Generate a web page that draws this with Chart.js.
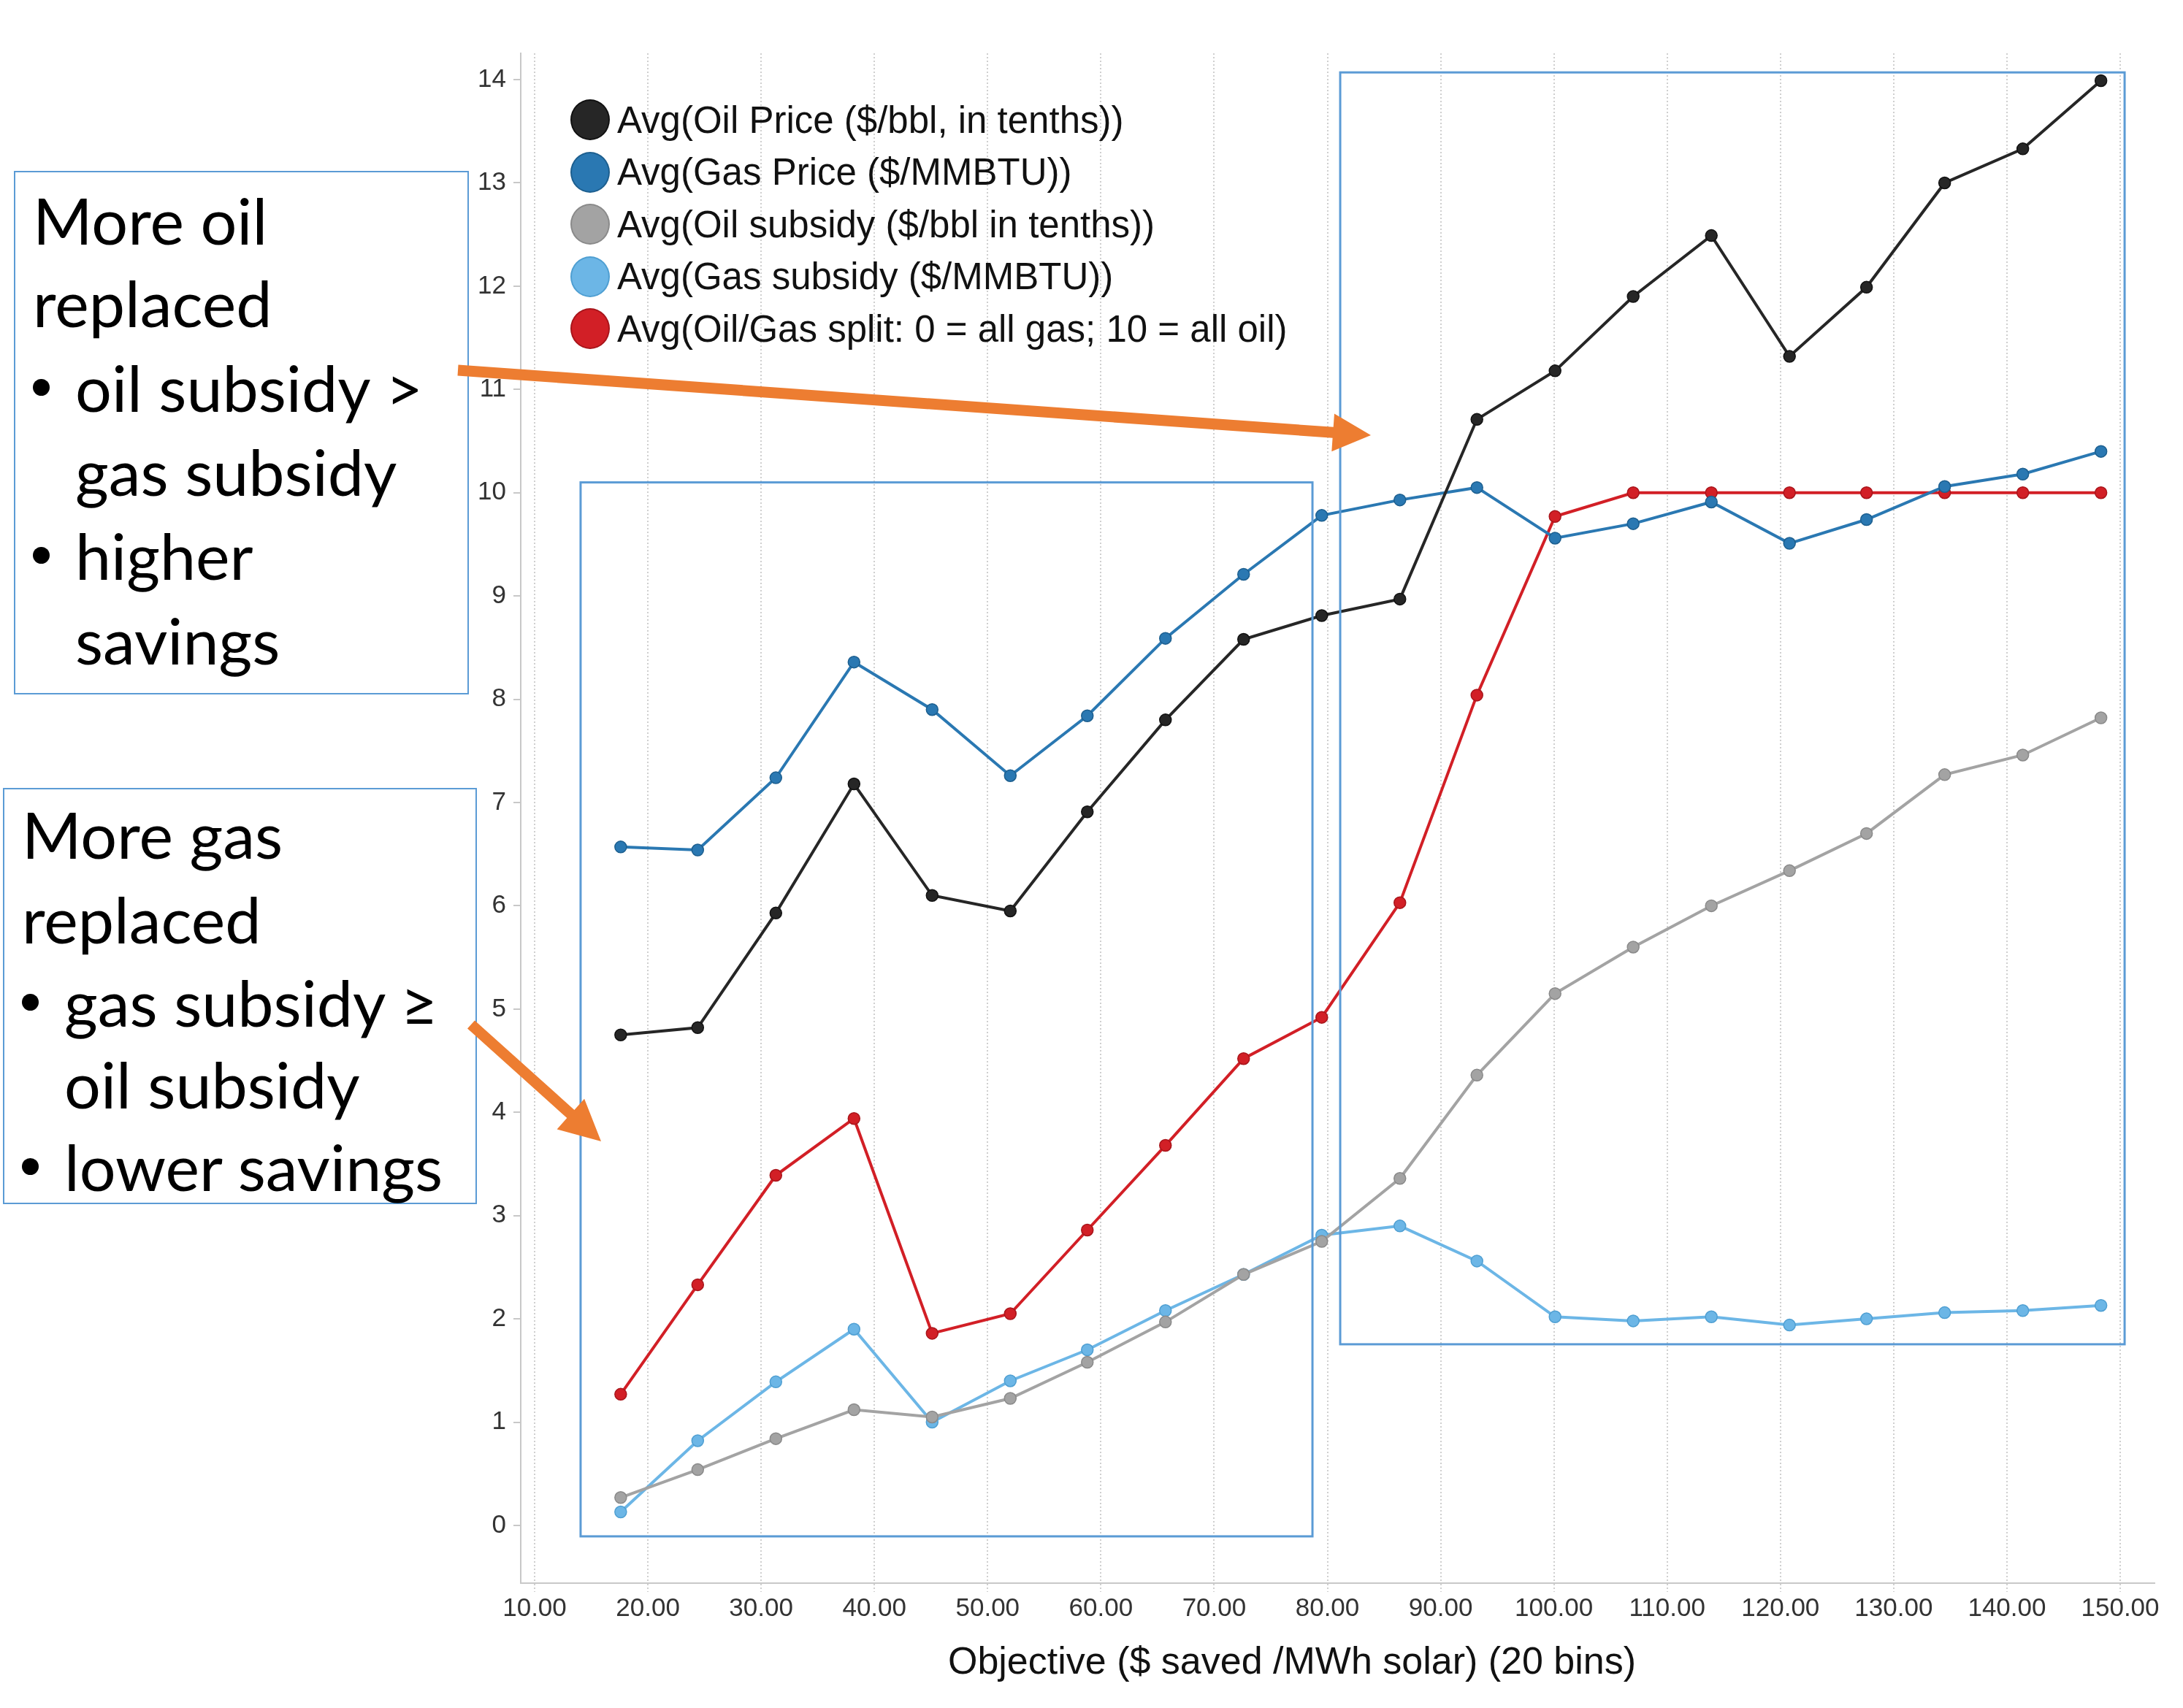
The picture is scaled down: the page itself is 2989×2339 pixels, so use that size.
<!DOCTYPE html>
<html>
<head>
<meta charset="utf-8">
<script src="https://cdn.jsdelivr.net/npm/chart.js@4.4.1/dist/chart.umd.min.js"></script>
<style>
  body { margin: 0; width: 2989px; height: 2339px; position: relative; overflow: hidden; background: #fff; }
  #chart { position: absolute; left: 0; top: 0; }
  .legend-item { position: absolute; display: flex; align-items: center; font-family: "Liberation Sans", Arial, sans-serif; font-size: 51px; color: #111; white-space: nowrap; }
  .legend-dot { width: 54px; height: 56px; border-radius: 50%; margin-right: 10px; box-sizing: border-box; }
  .note { position: absolute; border: 2px solid #5b9bd5; box-sizing: border-box; background: #fff; }
  .note-line { position: absolute; font-family: Lato, "Open Sans", sans-serif; font-size: 88px; line-height: 88px; color: #000; white-space: nowrap; }
  .note-bullet { position: absolute; width: 23px; height: 23px; border-radius: 50%; background: #000; }
  #xtitle { position: absolute; font-family: "Liberation Sans", Arial, sans-serif; font-size: 52px; line-height: 52px; color: #111; white-space: nowrap; transform: translateX(-50%); }
  svg { position: absolute; left: 0; top: 0; z-index: 5; }
</style>
</head>
<body>
<canvas id="chart" width="2989" height="2339"></canvas>
<div id="xtitle" style="left:1769px; top:2248px">Objective ($ saved /MWh solar) (20 bins)</div>
<svg id="arrows" width="2989" height="2339"></svg>
<script>
// bin centres of the objective ($ saved / MWh solar)
const objectiveBins = [17.6, 24.4, 31.3, 38.2, 45.1, 52.0, 58.8, 65.7, 72.6, 79.5,
                       86.4, 93.2, 100.1, 107.0, 113.9, 120.8, 127.6, 134.5, 141.4, 148.3];

const oilPrice   = [4.75, 4.82, 5.93, 7.18, 6.10, 5.95, 6.91, 7.80, 8.58, 8.81,
                    8.97, 10.71, 11.18, 11.90, 12.49, 11.32, 11.99, 13.00, 13.33, 13.99];
const gasPrice   = [6.57, 6.54, 7.24, 8.36, 7.90, 7.26, 7.84, 8.59, 9.21, 9.78,
                    9.93, 10.05, 9.56, 9.70, 9.91, 9.51, 9.74, 10.06, 10.18, 10.40];
const oilSubsidy = [0.27, 0.54, 0.84, 1.12, 1.05, 1.23, 1.58, 1.97, 2.43, 2.75,
                    3.36, 4.36, 5.15, 5.60, 6.00, 6.34, 6.70, 7.27, 7.46, 7.82];
const gasSubsidy = [0.13, 0.82, 1.39, 1.90, 1.00, 1.40, 1.70, 2.08, 2.43, 2.81,
                    2.90, 2.56, 2.02, 1.98, 2.02, 1.94, 2.00, 2.06, 2.08, 2.13];
const oilGasSplit = [1.27, 2.33, 3.39, 3.94, 1.86, 2.05, 2.86, 3.68, 4.52, 4.92,
                     6.03, 8.04, 9.77, 10.0, 10.0, 10.0, 10.0, 10.0, 10.0, 10.0];

const seriesLabels = [
  'Avg(Oil Price ($/bbl, in tenths))',
  'Avg(Gas Price ($/MMBTU))',
  'Avg(Oil subsidy ($/bbl in tenths))',
  'Avg(Gas subsidy ($/MMBTU))',
  'Avg(Oil/Gas split: 0 = all gas; 10 = all oil)'
];
const seriesValues = [oilPrice, gasPrice, oilSubsidy, gasSubsidy, oilGasSplit];
const seriesColors = ['#262626', '#2a78b2', '#a3a3a3', '#6cb6e6', '#d21f26'];
const seriesEdges  = ['#111111', '#1d5f8f', '#8a8a8a', '#4f9fd2', '#a8151b'];

const xTicks = [10, 20, 30, 40, 50, 60, 70, 80, 90, 100, 110, 120, 130, 140, 150];
const yTicks = [0, 1, 2, 3, 4, 5, 6, 7, 8, 9, 10, 11, 12, 13, 14];

const tickFont = { family: '"Liberation Sans", Arial, sans-serif', size: 35 };

// blue highlight rectangles, in data units
const boxPlugin = {
  id: 'boxes',
  afterDatasetsDraw(chart, args, opts) {
    const { ctx, scales: { x, y } } = chart;
    ctx.save();
    ctx.strokeStyle = opts.color;
    ctx.lineWidth = opts.width;
    opts.boxes.forEach(b => {
      const l = x.getPixelForValue(b.x0);
      const r = x.getPixelForValue(b.x1);
      const t = y.getPixelForValue(b.y1);
      const bt = y.getPixelForValue(b.y0);
      ctx.strokeRect(l, t, r - l, bt - t);
    });
    ctx.restore();
  }
};

const datasets = seriesValues.map((vals, i) => ({
  label: seriesLabels[i],
  data: vals.map((v, k) => ({ x: objectiveBins[k], y: v })),
  borderColor: seriesColors[i],
  backgroundColor: seriesColors[i],
  pointBackgroundColor: seriesColors[i],
  pointBorderColor: seriesEdges[i],
  pointBorderWidth: 1.5,
  pointRadius: 8,
  borderWidth: 4,
  tension: 0
}));

new Chart(document.getElementById('chart').getContext('2d'), {
  type: 'line',
  data: { datasets: datasets },
  options: {
    responsive: false,
    animation: false,
    devicePixelRatio: 1,
    layout: { padding: { top: 73, right: 39, left: 0, bottom: 0 } },
    plugins: {
      legend: { display: false },
      tooltip: { enabled: false },
      boxes: {
        color: '#5b9bd5',
        width: 3,
        boxes: [
          { x0: 14.06, x1: 78.68, y0: -0.106, y1: 10.10 },
          { x0: 81.13, x1: 150.39, y0: 1.754, y1: 14.07 }
        ]
      }
    },
    scales: {
      x: {
        type: 'linear',
        min: 8.775,
        max: 153.03,
        afterBuildTicks: s => { s.ticks = xTicks.map(v => ({ value: v })); },
        afterFit: s => { s.height = 171; },
        ticks: {
          callback: v => Number(v).toFixed(2),
          font: tickFont,
          color: '#333',
          padding: 2,
          maxRotation: 0,
          autoSkip: false
        },
        grid: { color: '#cfcfcf', lineWidth: 2, tickLength: 12, tickColor: '#cfcfcf', tickBorderDash: [2, 3] },
        border: { color: '#c8c8c8', width: 2, dash: [2, 3] }
      },
      y: {
        type: 'linear',
        min: -0.559,
        max: 14.255,
        afterBuildTicks: s => { s.ticks = yTicks.map(v => ({ value: v })); },
        afterFit: s => { s.width = 713; },
        ticks: { font: tickFont, color: '#333', padding: 10 },
        grid: { drawOnChartArea: false, tickLength: 10, color: '#c8c8c8', lineWidth: 2 },
        border: { color: '#c8c8c8', width: 2 }
      }
    }
  },
  plugins: [boxPlugin]
});

// legend in the top-left of the plot
seriesLabels.forEach((label, i) => {
  const item = document.createElement('div');
  item.className = 'legend-item';
  item.style.left = '781px';
  item.style.top = (164 + i * 71.5 - 28) + 'px';
  item.style.height = '56px';
  const dot = document.createElement('div');
  dot.className = 'legend-dot';
  dot.style.background = seriesColors[i];
  dot.style.border = '2px solid ' + seriesEdges[i];
  const txt = document.createElement('span');
  txt.textContent = label;
  item.appendChild(dot);
  item.appendChild(txt);
  document.body.appendChild(item);
});

// annotation text boxes
function makeNote(box, lines) {
  const el = document.createElement('div');
  el.className = 'note';
  el.style.left = box.left + 'px';
  el.style.top = box.top + 'px';
  el.style.width = box.width + 'px';
  el.style.height = box.height + 'px';
  document.body.appendChild(el);
  lines.forEach((ln, i) => {
    const base = box.baselines[i];
    if (ln.bullet) {
      const b = document.createElement('div');
      b.className = 'note-bullet';
      b.style.left = box.bulletX + 'px';
      b.style.top = (base - 45) + 'px';
      document.body.appendChild(b);
    }
    const t = document.createElement('div');
    t.className = 'note-line';
    t.textContent = ln.text;
    t.style.left = (ln.indent ? box.indentX : box.textX) + 'px';
    t.style.top = (base - 78) + 'px';
    document.body.appendChild(t);
  });
}

makeNote(
  { left: 19, top: 234, width: 623, height: 717, textX: 45, bulletX: 45, indentX: 103,
    baselines: [335, 448, 564, 679, 794, 910] },
  [
    { text: 'More oil' },
    { text: 'replaced' },
    { text: 'oil subsidy >', bullet: true, indent: true },
    { text: 'gas subsidy', indent: true },
    { text: 'higher', bullet: true, indent: true },
    { text: 'savings', indent: true }
  ]
);

makeNote(
  { left: 4, top: 1079, width: 649, height: 570, textX: 30, bulletX: 30, indentX: 88,
    baselines: [1176, 1292, 1406, 1518, 1631] },
  [
    { text: 'More gas' },
    { text: 'replaced' },
    { text: 'gas subsidy \u2265', bullet: true, indent: true },
    { text: 'oil subsidy', indent: true },
    { text: 'lower savings', bullet: true, indent: true }
  ]
);

// orange arrows
function arrowPoints(x1, y1, x2, y2, shaft, headLen, headHalf) {
  const dx = x2 - x1, dy = y2 - y1;
  const len = Math.hypot(dx, dy);
  const ux = dx / len, uy = dy / len;
  const nx = -uy, ny = ux;
  const bx = x2 - ux * headLen, by = y2 - uy * headLen;
  const h = shaft / 2;
  const pts = [
    [x1 + nx * h, y1 + ny * h],
    [bx + nx * h, by + ny * h],
    [bx + nx * headHalf, by + ny * headHalf],
    [x2, y2],
    [bx - nx * headHalf, by - ny * headHalf],
    [bx - nx * h, by - ny * h],
    [x1 - nx * h, y1 - ny * h]
  ];
  return pts.map(p => p[0].toFixed(1) + ',' + p[1].toFixed(1)).join(' ');
}

const svg = document.getElementById('arrows');
[
  [627, 507, 1877, 596, 15, 52, 26],
  [645, 1403, 823, 1563, 15, 56, 28]
].forEach(a => {
  const poly = document.createElementNS('http://www.w3.org/2000/svg', 'polygon');
  poly.setAttribute('points', arrowPoints(...a));
  poly.setAttribute('fill', '#ed7d31');
  svg.appendChild(poly);
});
</script>
</body>
</html>
